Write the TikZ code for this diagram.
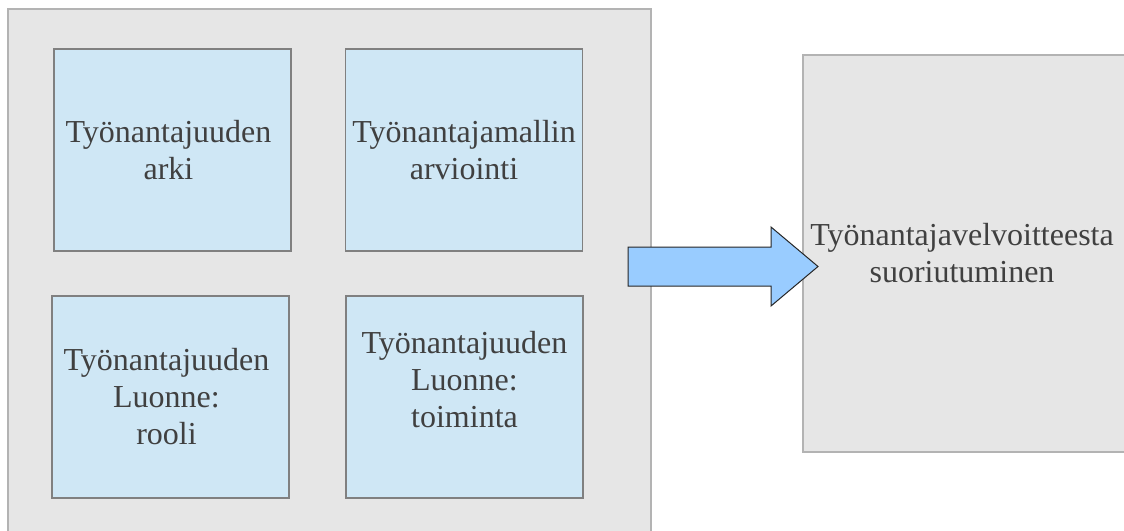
\documentclass[tikz,border=0pt]{standalone}
\usepackage{fontspec}
\setmainfont{Liberation Serif}
\newfontfamily\lserif{Liberation Serif}
\definecolor{graybg}{HTML}{E6E6E6}
\definecolor{grayedge}{HTML}{B3B3B3}
\definecolor{bluebg}{HTML}{CFE7F5}
\definecolor{blueedge}{HTML}{808080}
\definecolor{arrowbg}{HTML}{99CCFF}
\definecolor{txt}{HTML}{404040}
\tikzset{
  graybox/.style={draw=grayedge, fill=graybg, line width=2pt, rectangle, inner sep=0pt, outer sep=0pt},
  bluebox/.style={draw=blueedge, fill=bluebg, line width=1.2pt, rectangle, inner sep=0pt, outer sep=0pt,
    minimum width=237pt, minimum height=202pt},
  lbl/.style={text=txt, align=center, font=\lserif\fontsize{32}{37}\selectfont, inner sep=0pt},
  blockarrow/.style={draw=black!85, fill=arrowbg, line width=1pt, line join=miter}
}
\begin{document}
\begin{tikzpicture}[x=1pt,y=-1pt]
\useasboundingbox (0,0) rectangle (1124,530);
\clip (0,0) rectangle (1124,530);
\fill[white] (0,0) rectangle (1124,530);
% left container
\node[graybox, minimum width=643pt, minimum height=540pt] (left) at (329.5,279) {};
% blue boxes
\node[bluebox] (b1) at (172.5,150) {};
\node[lbl] (t1) at ([xshift=-4pt]b1.center) {Työnantajuuden\\arki};
\node[bluebox] (b2) at (464,150) {};
\node[lbl] (t2) at (b2.center) {Työnantajamallin\\arviointi};
\node[bluebox] (b3) at (170.5,397) {};
\node[lbl] (t3) at ([xshift=-4pt]b3.center) {Työnantajuuden\\Luonne:\\rooli};
\node[bluebox] (b4) at (464.5,397) {};
\node[lbl] (t4) at ([yshift=17pt]b4.center) {Työnantajuuden\\Luonne:\\toiminta};
% right box
\node[graybox, minimum width=340pt, minimum height=397pt] (right) at (973,253.5) {};
\node[lbl] (rt) at (962,253.5) {Työnantajavelvoitteesta\\suoriutuminen};
% block arrow
\coordinate (a1) at (628,247);
\coordinate (a2) at (771,247);
\coordinate (a3) at (771,227);
\coordinate (a4) at (818,266.5);
\coordinate (a5) at (771,306);
\coordinate (a6) at (771,286);
\coordinate (a7) at (628,286);
\draw[blockarrow] (a1) -- (a2) -- (a3) -- (a4) -- (a5) -- (a6) -- (a7) -- cycle;
\end{tikzpicture}
\end{document}
